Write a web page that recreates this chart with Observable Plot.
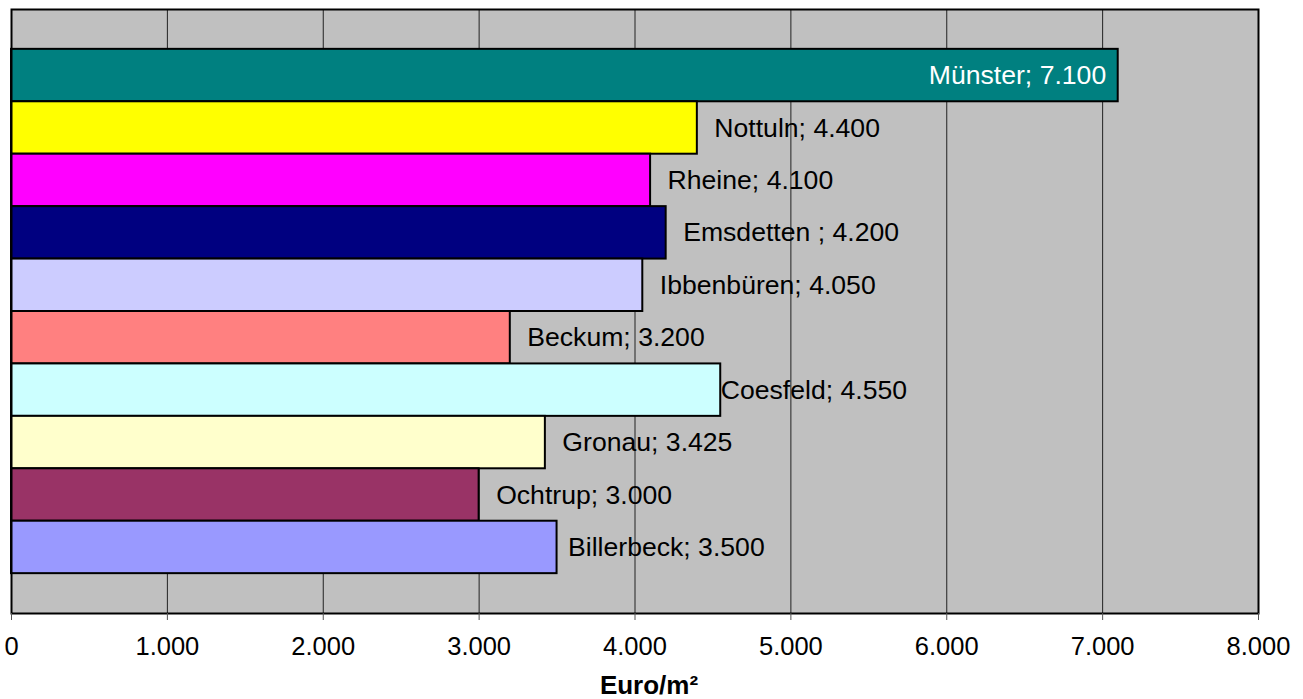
<!DOCTYPE html>
<html>
<head>
<meta charset="utf-8">
<script src="https://cdn.jsdelivr.net/npm/d3@7"></script>
<script src="https://cdn.jsdelivr.net/npm/@observablehq/plot@0.6"></script>
<style>
  html, body { margin: 0; padding: 0; background: #fff; }
  svg { display: block; }
</style>
</head>
<body>
<div id="chart"></div>
<script>
// Bodenrichtwerte / Preise je m² in Städten des Münsterlandes
const cities = ["Münster", "Nottuln", "Rheine", "Emsdetten ", "Ibbenbüren", "Beckum", "Coesfeld", "Gronau", "Ochtrup", "Billerbeck"];
const values = [7100, 4400, 4100, 4200, 4050, 3200, 4550, 3425, 3000, 3500];
const colors = ["#008080", "#FFFF00", "#FF00FF", "#000080", "#CCCCFF", "#FF8080", "#CCFFFF", "#FFFFCC", "#993366", "#9999FF"];
const xTicks = [0, 1000, 2000, 3000, 4000, 5000, 6000, 7000, 8000];
const axisTitle = "Euro/m²";

const de = d3.formatLocale({decimal: ",", thousands: ".", grouping: [3], currency: ["", " €"]});
const fmt = de.format(",");

const rows = cities.map((city, i) => ({
  city, value: values[i], color: colors[i],
  label: `${city}; ${fmt(values[i])}`
}));

const font = "'Liberation Sans', Arial, sans-serif";

// label placement: the first bar carries its label inside, the others outside
const inside = rows.slice(0, 1);
const outside = rows.slice(1);
const nudge = {"Coesfeld": 0, "Billerbeck": 11};
const outsideGroups = d3.groups(outside, d => nudge[d.city] ?? 17);

const chart = Plot.plot({
  width: 1303,
  height: 699,
  marginLeft: 11,
  marginRight: 45,
  marginTop: 9,
  marginBottom: 86,
  style: {fontFamily: font, background: "#fff"},
  x: {domain: [0, 8000], ticks: xTicks, tickFormat: fmt},
  y: {domain: cities, paddingInner: 0, paddingOuter: 0.76, round: false, axis: null},
  marks: [
    Plot.frame({fill: "#C0C0C0"}),
    Plot.gridX(xTicks, {stroke: "#222", strokeOpacity: 1, strokeWidth: 1}),
    Plot.barX(rows, {x: "value", y: "city", fill: "color", stroke: "#000", strokeWidth: 2, insetTop: 0, insetBottom: 0}),
    Plot.text(inside, {x: "value", y: "city", text: "label", fill: "#fff", textAnchor: "end", dx: -12, fontSize: 26.6}),
    ...outsideGroups.map(([dx, data]) =>
      Plot.text(data, {x: "value", y: "city", text: "label", fill: "#000", textAnchor: "start", dx, fontSize: 26.6})
    ),
    Plot.frame({stroke: "#000", strokeWidth: 2}),
    Plot.axisX(xTicks, {tickSize: 7, tickPadding: 16, stroke: "#555", fill: "#000", fontSize: 25.5, label: null, tickFormat: fmt}),
    Plot.text([axisTitle], {frameAnchor: "bottom", dy: 80, dx: 14, fontSize: 26, fontWeight: "bold", fill: "#000"})
  ]
});

document.getElementById("chart").appendChild(chart);
</script>
</body>
</html>
